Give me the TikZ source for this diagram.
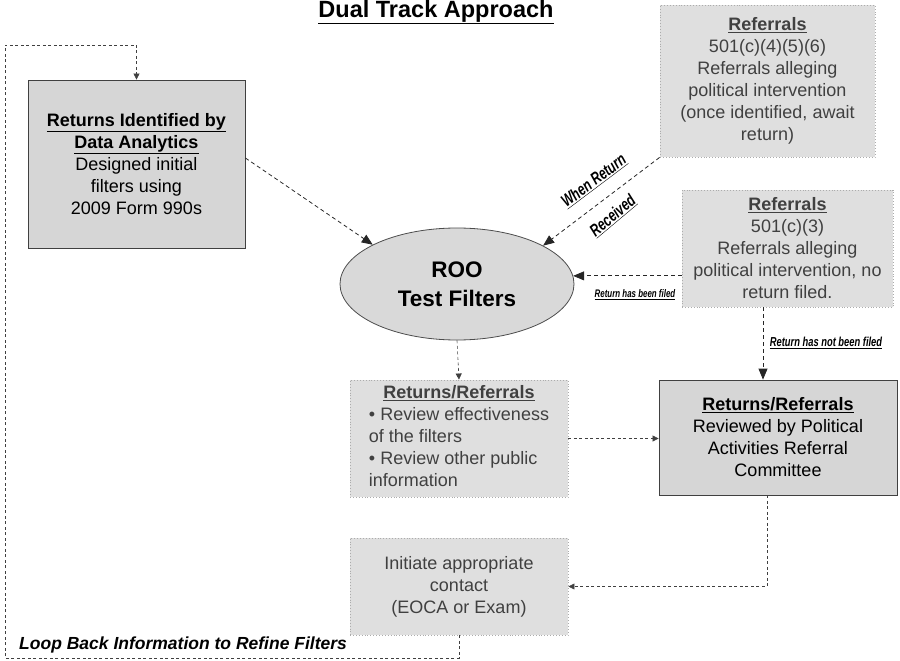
\documentclass[tikz,border=0pt]{standalone}
\usepackage{fontspec}
\setmainfont{Liberation Sans}
\newfontfamily\narrowfont[FakeStretch=0.72]{Liberation Sans}
\usetikzlibrary{shapes.geometric, arrows.meta}

\begin{document}
\begin{tikzpicture}[x=1pt, y=-1pt,
    bx/.style={rectangle, align=center, inner sep=2pt,
               font=\fontsize{18}{22}\selectfont},
    rbox/.style={bx, fill=gray!32, draw=black!75, line width=0.8pt},
    sbox/.style={bx, fill=gray!25, draw=gray!65, dotted, line width=0.9pt,
                 text=black!75},
    arr/.style={-{Triangle[length=11pt, width=9pt]}, draw=black!85,
                line width=0.8pt, dash pattern=on 4pt off 3pt},
    sarr/.style={-{Triangle[length=6pt, width=6pt]}, draw=black!75,
                 line width=0.6pt, dash pattern=on 3pt off 2.5pt},
    lbl/.style={inner sep=0pt}
  ]
  \useasboundingbox (0,0) rectangle (900,661);

  \node[font=\fontsize{23.5}{28}\selectfont\bfseries] (ttl) at (436,12)
        {\underline{Dual Track Approach}};

  \node[rbox, minimum width=217pt, minimum height=168pt] (ret) at (136.5,164)
        {\underline{\textbf{Returns Identified by}}\\
         \underline{\textbf{Data Analytics}}\\
         Designed initial\\ filters using\\ 2009 Form 990s};

  \node[sbox, minimum width=215pt, minimum height=152pt] (ref1) at (767.5,81)
        {\underline{\textbf{Referrals}}\\ 501(c)(4)(5)(6)\\
         Referrals alleging\\ political intervention\\
         (once identified, await\\ return)};

  \node[sbox, minimum width=211pt, minimum height=117pt] (ref2) at (787.5,248.5)
        {\underline{\textbf{Referrals}}\\ 501(c)(3)\\
         Referrals alleging\\ political intervention, no\\ return filed.};

  \node[ellipse, fill=gray!30, draw=black!70, line width=0.8pt,
        minimum width=234pt, minimum height=112pt, align=center,
        font=\fontsize{22.5}{29}\selectfont\bfseries] (roo) at (457,284)
        {ROO\\Test Filters};

  \node[sbox, minimum width=218pt, minimum height=117pt] (mid) at (459,438.5)
        {\begin{tabular}{@{}l@{}}
         \multicolumn{1}{@{}c@{}}{\underline{\textbf{Returns/Referrals}}}\\
         \textbullet{} Review effectiveness\\ of the filters\\
         \textbullet{} Review other public\\ information
         \end{tabular}};

  \node[rbox, minimum width=238pt, minimum height=115pt] (rev) at (778,437.5)
        {\underline{\textbf{Returns/Referrals}}\\ Reviewed by Political\\
         Activities Referral\\ Committee};

  \node[sbox, minimum width=218pt, minimum height=97pt] (init) at (459,586.5)
        {Initiate appropriate\\ contact\\ (EOCA or Exam)};

  % labels on the referral tracks
  \node[lbl, rotate=37, font={\narrowfont\bfseries\itshape\fontsize{17}{20}\selectfont}]
        (whn) at (594,181) {\underline{When Return}};
  \node[lbl, rotate=40, font={\narrowfont\bfseries\itshape\fontsize{17}{20}\selectfont}]
        (rcv) at (613,216) {\underline{Received}};
  \node[lbl, font={\narrowfont\bfseries\itshape\fontsize{11}{13}\selectfont}]
        (hbf) at (635,295) {\underline{Return has been filed}};
  \node[lbl, font={\narrowfont\bfseries\itshape\fontsize{13}{15}\selectfont}]
        (nbf) at (826,343) {\underline{Return has not been filed}};
  \node[lbl, anchor=west, font=\fontsize{17.5}{20}\selectfont\bfseries\itshape]
        (loop) at (19,645) {Loop Back Information to Refine Filters};

  \coordinate (loopB) at (5,658);
  \coordinate (loopT) at (5,45);

  \draw[arr]  (ret.east) ++(0,-6) -- (roo.155);
  \draw[arr]  (ref1.south west) -- (roo.24);
  \draw[arr]  (ref2.west |- roo.4) -- (roo.4);
  \draw[arr]  ([xshift=-15pt]rev.north |- ref2.south) -- ([xshift=-15pt]rev.north);
  \draw[sarr] (roo.south) -- (mid.north);
  \draw[sarr] (mid.east) -- (mid.east -| rev.west);
  \draw[sarr] ([xshift=-11pt]rev.south) |- (init.east);
  \draw[sarr] (init.south) |- (loopB) -- (loopT) -| (ret.north);
\end{tikzpicture}
\end{document}
